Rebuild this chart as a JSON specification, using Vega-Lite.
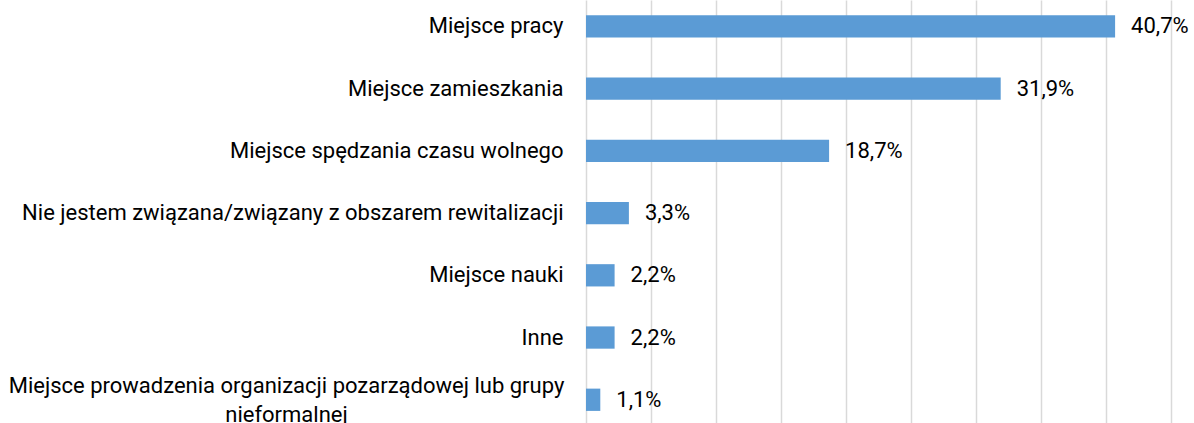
{
  "$schema": "https://vega.github.io/schema/vega-lite/v6.json",
  "width": 585,
  "height": 423,
  "autosize": {"type": "none"},
  "padding": {"left": 586, "top": 0, "right": 23, "bottom": 0},
  "background": "white",
  "config": {
    "view": {"stroke": null},
    "font": "Roboto",
    "text": {"font": "Roboto"}
  },
  "data": {
    "values": [
      {"kategoria": "Miejsce pracy", "wartosc": 40.7, "etykieta": "40,7%"},
      {"kategoria": "Miejsce zamieszkania", "wartosc": 31.9, "etykieta": "31,9%"},
      {"kategoria": "Miejsce spędzania czasu wolnego", "wartosc": 18.7, "etykieta": "18,7%"},
      {"kategoria": "Nie jestem związana/związany z obszarem rewitalizacji", "wartosc": 3.3, "etykieta": "3,3%"},
      {"kategoria": "Miejsce nauki", "wartosc": 2.2, "etykieta": "2,2%"},
      {"kategoria": "Inne", "wartosc": 2.2, "etykieta": "2,2%"},
      {"kategoria": "Miejsce prowadzenia organizacji pozarządowej lub grupy|nieformalnej", "wartosc": 1.1, "etykieta": "1,1%"}
    ]
  },
  "encoding": {
    "y": {
      "field": "kategoria",
      "type": "nominal",
      "sort": null,
      "scale": {"paddingInner": 0.642, "paddingOuter": 0.22, "align": 0.558},
      "axis": {
        "title": null,
        "ticks": false,
        "domain": false,
        "labelExpr": "split(datum.label, '|')",
        "labelFont": "Roboto",
        "labelFontSize": 22,
        "labelColor": "#000000",
        "labelPadding": {"condition": {"test": "indexof(datum.value, '|') >= 0", "value": 300}, "value": 23},
        "labelAlign": {"condition": {"test": "indexof(datum.value, '|') >= 0", "value": "center"}, "value": "right"},
        "labelOffset": {"condition": {"test": "indexof(datum.value, '|') >= 0", "value": -14}, "value": 0},
        "labelLimit": 0,
        "labelLineHeight": 29
      }
    },
    "x": {
      "field": "wartosc",
      "type": "quantitative",
      "scale": {"domain": [0, 45], "nice": false},
      "axis": {
        "title": null,
        "values": [0, 5, 10, 15, 20, 25, 30, 35, 40, 45],
        "labels": false,
        "ticks": false,
        "domain": false,
        "grid": true,
        "gridColor": "#d9d9d9",
        "gridWidth": 1.5
      }
    }
  },
  "layer": [
    {"mark": {"type": "bar", "color": "#5B9BD5"}},
    {
      "mark": {"type": "text", "align": "left", "baseline": "middle", "dx": 16, "fontSize": 22, "color": "#000000"},
      "encoding": {"text": {"field": "etykieta"}}
    }
  ]
}
